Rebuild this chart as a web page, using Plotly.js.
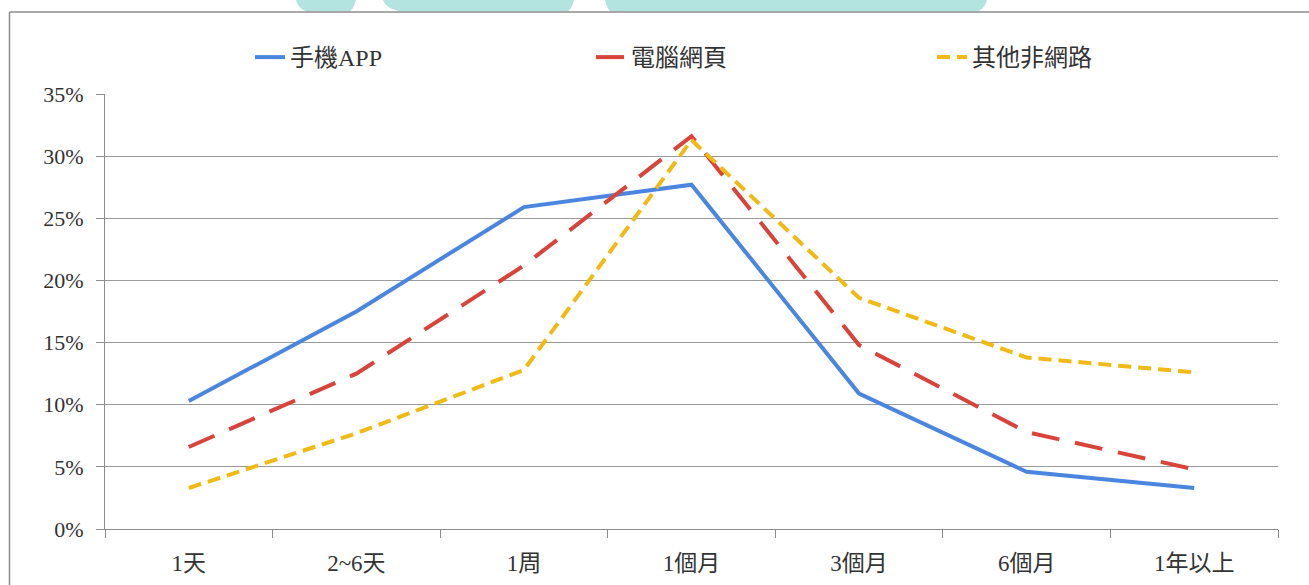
<!DOCTYPE html>
<html>
<head>
<meta charset="utf-8">
<script src="https://cdn.plot.ly/plotly-3.0.1.min.js"></script>
<style>html,body{margin:0;padding:0;background:#fff;}#chart{width:1309px;height:585px;}</style>
</head>
<body>
<div id="chart"></div>
<script>
// Data
const categories = ["1天", "2~6天", "1周", "1個月", "3個月", "6個月", "1年以上"];
const seriesNames = ["手機APP", "電腦網頁", "其他非網路"];
const appValues   = [10.3, 17.5, 25.9, 27.7, 10.9, 4.6, 3.3];
const webValues   = [6.6, 12.5, 21.2, 31.6, 14.8, 7.8, 4.8];
const otherValues = [3.3, 7.7, 12.8, 31.3, 18.6, 13.8, 12.6];
const yTickVals = [0, 5, 10, 15, 20, 25, 30, 35];
const yTickText = ["0%", "5%", "10%", "15%", "20%", "25%", "30%", "35%"];

// layout geometry helpers (pixel -> paper)
const W = 1309, H = 585, ML = 105, MR = 31, MT = 94, MB = 56;
const PW = W - ML - MR, PH = H - MT - MB;
const px = x => (x - ML) / PW;
const py = y => (H - MB - y) / PH;

const FONT = "'Liberation Serif', 'Noto Sans CJK TC', serif";
const TXT = "#333333";

const traces = [
  {x: categories, y: appValues, name: seriesNames[0], type: "scatter", mode: "lines",
   line: {color: "#4a86e0", width: 4}},
  {x: categories, y: webValues, name: seriesNames[1], type: "scatter", mode: "lines",
   line: {color: "#d8433a", width: 4, dash: "28px,16px"}},
  {x: categories, y: otherValues, name: seriesNames[2], type: "scatter", mode: "lines",
   line: {color: "#f0b913", width: 4, dash: "13px,7px"}}
];

function teal(x0, x1, x2, x3) {
  return {type: "path", xref: "paper", yref: "paper", layer: "below",
    path: `M ${px(x0)} ${py(0)} L ${px(x3)} ${py(0)} Q ${px(x3-2)} ${py(8)} ${px(x2)} ${py(11.5)} L ${px(x1)} ${py(11.5)} Q ${px(x0+2)} ${py(8)} ${px(x0)} ${py(0)} Z`,
    fillcolor: "#b3e4df", line: {width: 0}};
}

const shapes = [
  teal(296, 306, 350, 356),
  teal(383, 400, 568, 574),
  teal(605, 610, 978, 987),
  {type: "line", xref: "paper", yref: "paper", x0: px(9.5), x1: px(1309), y0: py(12), y1: py(12),
   line: {color: "#8c8c8c", width: 1.5}},
  {type: "line", xref: "paper", yref: "paper", x0: px(9.5), x1: px(9.5), y0: py(12), y1: py(585),
   line: {color: "#8c8c8c", width: 1.5}}
];

const layout = {
  width: W, height: H,
  margin: {l: ML, r: MR, t: MT, b: MB, pad: 0},
  paper_bgcolor: "#ffffff", plot_bgcolor: "#ffffff",
  font: {family: FONT, size: 20, color: TXT},
  showlegend: true,
  legend: {orientation: "h", x: px(250), y: py(35), xanchor: "left", yanchor: "top",
    entrywidth: 296, entrywidthmode: "pixels",
    font: {family: FONT, size: 24, color: TXT}, bgcolor: "rgba(0,0,0,0)"},
  xaxis: {type: "category", range: [-0.5, 6.5], tickson: "boundaries", ticks: "outside", ticklen: 8,
    tickcolor: "#8c8c8c", showline: true, linecolor: "#8c8c8c", linewidth: 1, showgrid: false,
    zeroline: false, ticklabelstandoff: 13,
    tickfont: {family: FONT, size: 23, color: TXT}, fixedrange: true},
  yaxis: {range: [0, 35], tickvals: yTickVals, ticktext: yTickText, ticks: "outside", ticklen: 8,
    tickcolor: "#8c8c8c", showline: true, linecolor: "#8c8c8c", linewidth: 1,
    showgrid: true, gridcolor: "#9a9a9a", gridwidth: 1, zeroline: false, ticklabelstandoff: 8,
    tickfont: {family: FONT, size: 22, color: TXT}, fixedrange: true},
  shapes: shapes
};

Plotly.newPlot("chart", traces, layout, {displayModeBar: false, staticPlot: true});
</script>
</body>
</html>
